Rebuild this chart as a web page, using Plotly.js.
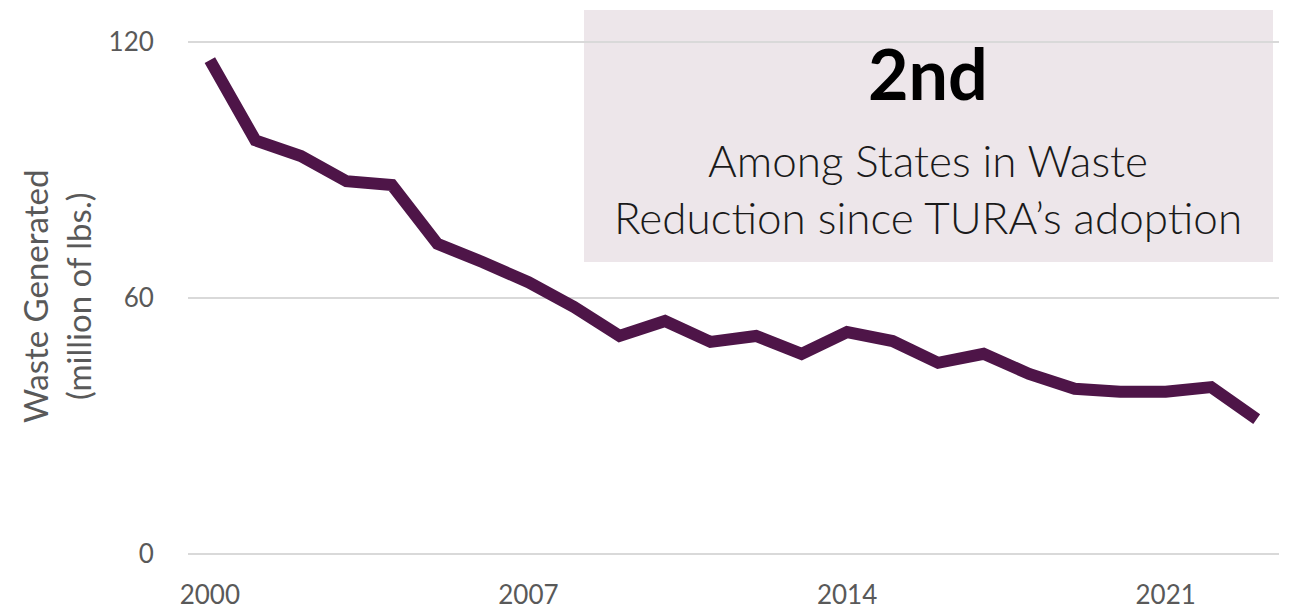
<!DOCTYPE html>
<html>
<head>
<meta charset="utf-8">
<script src="https://cdn.plot.ly/plotly-3.0.1.min.js"></script>
<style>html,body{margin:0;padding:0;background:#fff;}#chart{width:1291px;height:610px;}</style>
</head>
<body>
<div id="chart"></div>
<script>
const years = [2000,2001,2002,2003,2004,2005,2006,2007,2008,2009,2010,2011,2012,2013,2014,2015,2016,2017,2018,2019,2020,2021,2022,2023];
const waste = [115.8,97.0,93.3,87.4,86.5,72.7,68.4,63.7,57.9,51.1,54.6,49.7,51.1,46.9,52.0,49.9,44.8,46.9,42.2,38.7,38.0,38.0,39.1,31.6];
const yTickVals = [0,60,120];
const xTickVals = [2000,2007,2014,2021];
const rankText = "2nd";
const rankCaption = "Among States in Waste<br>Reduction since TURA’s adoption";
const yTitle = "Waste Generated<br>(million of lbs.)";

const FONT = "Lato, 'Open Sans', sans-serif";
const trace = {
  x: years, y: waste, type: 'scatter', mode: 'lines',
  line: {color: '#4e1548', width: 12},
  hoverinfo: 'skip'
};
const layout = {
  width: 1291, height: 610,
  margin: {l: 188, r: 12, t: 38, b: 52},
  paper_bgcolor: '#ffffff', plot_bgcolor: 'rgba(0,0,0,0)',
  showlegend: false,
  font: {family: FONT, color: '#595959'},
  xaxis: {
    range: [1999.52, 2023.49], tickvals: xTickVals, ticktext: xTickVals.map(String),
    showgrid: false, zeroline: false, showline: false,
    ticks: 'outside', ticklen: 14, tickcolor: 'rgba(0,0,0,0)',
    tickfont: {size: 26, color: '#595959', family: FONT}
  },
  yaxis: {
    range: [-1, 121], tickvals: yTickVals, ticktext: yTickVals.map(String),
    showgrid: true, gridcolor: '#d9d9d9', gridwidth: 2, zeroline: false, showline: false,
    ticks: 'outside', ticklen: 28, tickcolor: 'rgba(0,0,0,0)',
    tickfont: {size: 26, color: '#595959', family: FONT}
  },
  shapes: [{
    type: 'rect', xref: 'paper', yref: 'paper', layer: 'below',
    x0: 0.363, x1: 0.9945, y0: 0.569, y1: 1.054,
    fillcolor: '#ede6ea', line: {width: 0}
  }],
  annotations: [
    {xref: 'paper', yref: 'paper', x: (928-188)/1091, y: (558-73)/520, text: '<b>' + rankText + '</b>',
     showarrow: false, xanchor: 'center', yanchor: 'middle', font: {size: 70, color: '#000000', family: FONT}},
    {xref: 'paper', yref: 'paper', x: (928-188)/1091, y: (558-189)/520, text: rankCaption,
     showarrow: false, xanchor: 'center', yanchor: 'middle', align: 'center',
     font: {size: 44, color: '#1a1a1a', family: FONT, weight: 300}},
    {xref: 'paper', yref: 'paper', x: (56-188)/1091, y: (558-297)/520, text: yTitle, textangle: -90,
     showarrow: false, xanchor: 'center', yanchor: 'middle', align: 'center',
     font: {size: 33, color: '#595959', family: FONT}}
  ]
};
Plotly.newPlot('chart', [trace], layout, {staticPlot: true, displayModeBar: false});
</script>
</body>
</html>
